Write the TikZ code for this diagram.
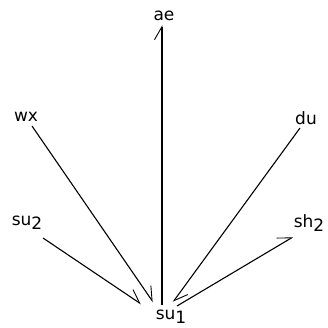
\documentclass[tikz,border=0pt]{standalone}
\usepackage{fontspec}
\setmainfont{DejaVu Sans}
\usetikzlibrary{arrows.meta}
\newcommand{\subdig}[1]{\raisebox{-0.4ex}{#1}}
\tikzset{
  lbl/.style={inner sep=0pt, font=\fontsize{17}{19}\selectfont},
  conn/.style={line width=1.1pt, -{Straight Barb[left, length=13pt, width=15pt, line width=0.9pt]}}
}
\begin{document}
\begin{tikzpicture}[x=1pt, y=-1pt]
\useasboundingbox (0,0) rectangle (327,328);
% labels
\node[lbl] (ae)  at (164,16)  {ae};
\node[lbl] (wx)  at (26,117)  {wx};
\node[lbl] (du)  at (306,118) {du};
\node[lbl] (su2) at (27,223)  {su\subdig{2}};
\node[lbl] (sh2) at (309,223) {sh\subdig{2}};
\node[lbl] (su1) at (171,317) {su\subdig{1}};
% connector end points
\coordinate (aeT)  at (162,25);
\coordinate (aeB)  at (162,305);
\coordinate (wxS)  at (32,126);
\coordinate (wxE)  at (153,302);
\coordinate (duS)  at (300,128);
\coordinate (duE)  at (173,302);
\coordinate (su2S) at (43,238);
\coordinate (su2E) at (141,304);
\coordinate (sh2S) at (177,306);
\coordinate (sh2T) at (293,237);
% connectors
\draw[conn] (aeB) -- (aeT);
\draw[conn] (wxS) -- (wxE);
\draw[conn] (duS) -- (duE);
\draw[conn] (su2S) -- (su2E);
\draw[conn] (sh2S) -- (sh2T);
\end{tikzpicture}
\end{document}
